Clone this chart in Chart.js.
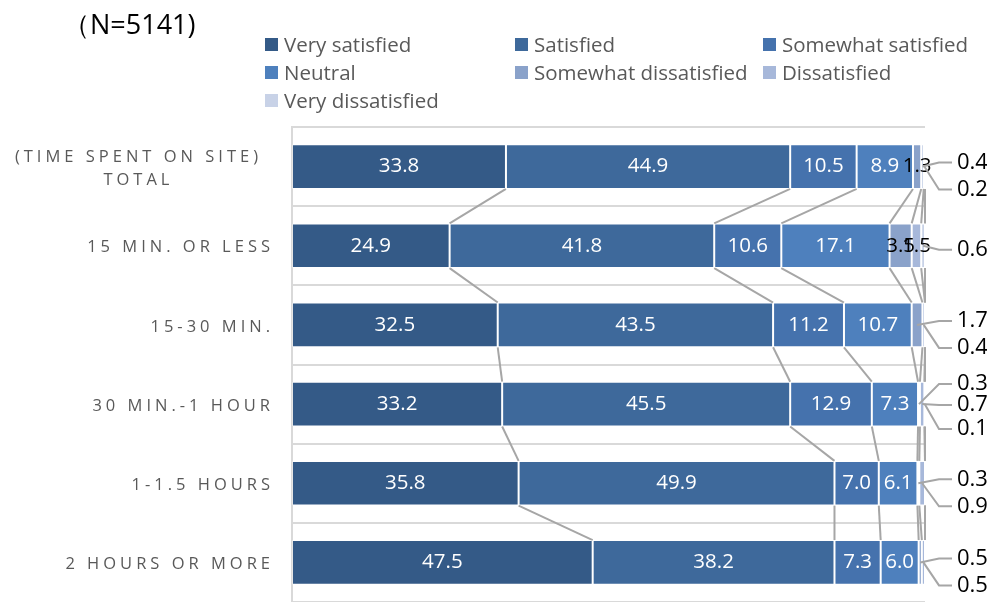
<!DOCTYPE html>
<html>
<head>
<meta charset="utf-8">
<script src="https://cdn.jsdelivr.net/npm/chart.js@4.4.1/dist/chart.umd.min.js"></script>
<style>
  html, body { margin: 0; padding: 0; background: #fff; overflow: hidden; }
  #wrap { position: relative; width: 987px; height: 602px; }
  #title { position: absolute; left: 63px; top: 5px; font: 27px "Open Sans", sans-serif; color: #000; }
  #legend { position: absolute; left: 265px; top: 30px; display: grid; grid-template-columns: 250px 248px 230px; row-gap: 0px; }
  .item { display: flex; align-items: center; height: 28px; font: 20.5px "Open Sans", sans-serif; color: #595959; white-space: nowrap; }
  .item span.box { display: inline-block; width: 13px; height: 13px; margin-right: 6px; }
</style>
</head>
<body>
<div id="wrap">
  <canvas id="chart" width="987" height="602"></canvas>
  <div id="title">（N=5141)</div>
  <div id="legend"></div>
</div>
<script>
// categories (y axis)
var categories = [["(TIME SPENT ON SITE)", "TOTAL"], "15 MIN. OR LESS", "15-30 MIN.", "30 MIN.-1 HOUR", "1-1.5 HOURS", "2 HOURS OR MORE"];
var seriesNames = ["Very satisfied", "Satisfied", "Somewhat satisfied", "Neutral", "Somewhat dissatisfied", "Dissatisfied", "Very dissatisfied"];

// values in %
var verySatisfied = [33.8, 24.9, 32.5, 33.2, 35.8, 47.5];
var satisfied = [44.9, 41.8, 43.5, 45.5, 49.9, 38.2];
var somewhatSatisfied = [10.5, 10.6, 11.2, 12.9, 7.0, 7.3];
var neutral = [8.9, 17.1, 10.7, 7.3, 6.1, 6.0];
var somewhatDissatisfied = [1.3, 3.5, 1.7, 0.3, 0.3, 0.5];
var dissatisfied = [0.4, 1.5, 0.4, 0.7, 0.9, 0.5];
var veryDissatisfied = [0.2, 0.6, 0.0, 0.1, 0.0, 0.0];

var seriesValues = [verySatisfied, satisfied, somewhatSatisfied, neutral, somewhatDissatisfied, dissatisfied, veryDissatisfied];
var colors = ["#345a87", "#3e699b", "#4572ad", "#4e80bd", "#8aa2ca", "#a7b8da", "#c8d2e7"];

// which series get a callout label to the right of the bar, per row
var calloutSeries = [[5, 6], [6], [4, 5], [4, 5, 6], [4, 5], [4, 5]];
// vertical offsets of the callouts from the bar centre, by how many there are
var calloutOffsets = {1: [4], 2: [-4, 23], 3: [-20, 1, 25]};

// legend
var legendDiv = document.getElementById("legend");
for (let i = 0; i < seriesNames.length; i++) {
    let item = document.createElement("div");
    item.className = "item";
    let box = document.createElement("span");
    box.className = "box";
    box.style.background = colors[i];
    item.appendChild(box);
    item.appendChild(document.createTextNode(seriesNames[i]));
    legendDiv.appendChild(item);
}

// Excel style series lines between the bars
var seriesLines = {
    id: "seriesLines",
    beforeDatasetsDraw(chart) {
        let ctx = chart.ctx;
        let x = chart.scales.x;
        let metas = chart.data.datasets.map((d, i) => chart.getDatasetMeta(i));
        ctx.save();
        ctx.strokeStyle = "#a6a6a6";
        ctx.lineWidth = 2;
        for (let r = 0; r < categories.length - 1; r++) {
            let cumA = 0, cumB = 0;
            for (let s = 0; s < seriesValues.length; s++) {
                cumA += seriesValues[s][r];
                cumB += seriesValues[s][r + 1];
                let barA = metas[s].data[r];
                let barB = metas[s].data[r + 1];
                ctx.beginPath();
                ctx.moveTo(x.getPixelForValue(cumA), barA.y + barA.height / 2);
                ctx.lineTo(x.getPixelForValue(cumB), barB.y - barB.height / 2);
                ctx.stroke();
            }
        }
        ctx.restore();
    }
};

// value labels (inside and callouts)
var valueLabels = {
    id: "valueLabels",
    afterDatasetsDraw(chart) {
        let ctx = chart.ctx;
        let area = chart.chartArea;
        ctx.save();
        for (let r = 0; r < categories.length; r++) {
            let outside = calloutSeries[r];
            for (let s = 0; s < seriesValues.length; s++) {
                let v = seriesValues[s][r];
                if (v == 0) continue;
                let bar = chart.getDatasetMeta(s).data[r];
                let cx = (bar.x + bar.base) / 2;
                let idx = outside.indexOf(s);
                if (idx < 0) {
                    ctx.font = "20.5px 'Open Sans', sans-serif";
                    ctx.fillStyle = s < 4 ? "#ffffff" : "#000000";
                    ctx.textAlign = "center";
                    ctx.textBaseline = "middle";
                    ctx.fillText(v.toFixed(1), cx, bar.y);
                } else {
                    let ly = bar.y + calloutOffsets[outside.length][idx];
                    let lx = area.right + 32;
                    ctx.strokeStyle = "#a6a6a6";
                    ctx.lineWidth = 2;
                    ctx.beginPath();
                    ctx.moveTo(cx, bar.y);
                    ctx.lineTo(lx - 18, ly);
                    ctx.lineTo(lx - 5, ly);
                    ctx.stroke();
                    ctx.font = "22px 'Open Sans', sans-serif";
                    ctx.fillStyle = "#000000";
                    ctx.textAlign = "left";
                    ctx.textBaseline = "middle";
                    ctx.fillText(v.toFixed(1), lx, ly);
                }
            }
        }
        ctx.restore();
    }
};

// category labels with letter spacing
var categoryLabels = {
    id: "categoryLabels",
    afterDraw(chart) {
        let ctx = chart.ctx;
        let y = chart.scales.y;
        ctx.save();
        ctx.font = "16.5px 'Open Sans', sans-serif";
        ctx.letterSpacing = "4px";
        ctx.fillStyle = "#595959";
        ctx.textBaseline = "middle";
        for (let i = 0; i < categories.length; i++) {
            let cy = y.getPixelForValue(i);
            let lines = Array.isArray(categories[i]) ? categories[i] : [categories[i]];
            let widths = lines.map(l => ctx.measureText(l).width);
            let w = Math.max(...widths);
            let right = lines.length > 1 ? 262 : 274;
            let lh = 23;
            let top = cy - (lines.length - 1) * lh / 2 + 2;
            ctx.textAlign = "center";
            for (let j = 0; j < lines.length; j++) {
                ctx.fillText(lines[j], right - w / 2, top + j * lh);
            }
        }
        ctx.restore();
    }
};

var datasets = [];
for (let i = 0; i < seriesNames.length; i++) {
    datasets.push({
        label: seriesNames[i],
        data: seriesValues[i],
        backgroundColor: colors[i],
        borderColor: "rgba(255,255,255,0.35)",
        borderWidth: 1,
        borderSkipped: false,
        barPercentage: 0.565,
        categoryPercentage: 1
    });
}

new Chart(document.getElementById("chart"), {
    type: "bar",
    data: {
        labels: categories,
        datasets: datasets
    },
    options: {
        indexAxis: "y",
        responsive: false,
        animation: false,
        layout: { padding: { top: 127, right: 62, bottom: 0, left: 0 } },
        plugins: {
            legend: { display: false },
            tooltip: { enabled: false }
        },
        scales: {
            x: {
                stacked: true,
                min: 0,
                max: 100,
                display: false
            },
            y: {
                stacked: true,
                ticks: { display: false },
                grid: { color: "#d9d9d9", lineWidth: 2, drawTicks: false },
                border: { color: "#d9d9d9", width: 2 },
                afterFit(scale) { scale.width = 292; }
            }
        }
    },
    plugins: [seriesLines, valueLabels, categoryLabels]
});
</script>
</body>
</html>
